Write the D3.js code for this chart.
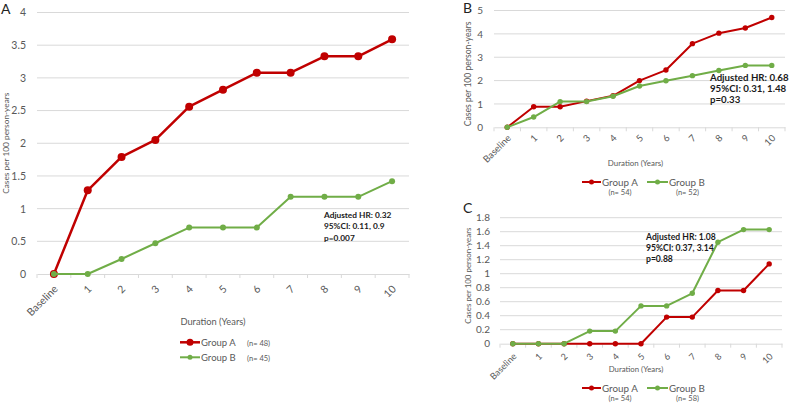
<!DOCTYPE html>
<html><head><meta charset="utf-8">
<script src="https://cdn.jsdelivr.net/npm/d3@7"></script>
<style>body{margin:0;background:#fff}svg{display:block}text{font-family:Lato,"Open Sans",sans-serif}</style>
</head><body>
<svg id="c" width="789" height="403"></svg>
<script>
const categories = ["Baseline","1","2","3","4","5","6","7","8","9","10"];
const aGroupA = [0,1.28,1.79,2.05,2.56,2.82,3.08,3.08,3.33,3.33,3.59];
const aGroupB = [0,0,0.23,0.47,0.71,0.71,0.71,1.18,1.18,1.18,1.42];
const bGroupA = [0,0.88,0.88,1.12,1.35,2.0,2.45,3.58,4.03,4.25,4.7];
const bGroupB = [0,0.44,1.1,1.1,1.33,1.77,1.99,2.21,2.43,2.65,2.65];
const cGroupA = [0,0,0,0,0,0,0.38,0.38,0.76,0.76,1.14];
const cGroupB = [0,0,0,0.18,0.18,0.54,0.54,0.72,1.45,1.63,1.63];
const aTicks = [0,0.5,1,1.5,2,2.5,3,3.5,4];
const bTicks = [0,1,2,3,4,5];
const cTicks = [0,0.2,0.4,0.6,0.8,1,1.2,1.4,1.6,1.8];
const aAnnot = ["Adjusted HR: 0.32","95%CI: 0.11, 0.9","p=0.007"];
const bAnnot = ["Adjusted HR: 0.68","95%CI: 0.31, 1.48","p=0.33"];
const cAnnot = ["Adjusted HR: 1.08","95%CI: 0.37, 3.14","p=0.88"];
const seriesNames = ["Group A","Group B"];
const aN = ["(n= 48)","(n= 45)"];
const bN = ["(n= 54)","(n= 52)"];
const cN = ["(n= 54)","(n= 58)"];

const RED="#C00000", GREEN="#70AD47", TXT="#595959", GRID="#D9D9D9";
const svg = d3.select("#c");

function panel(o){
  const g = svg.append("g");
  const x = d3.scaleBand().domain(categories).range([o.x0,o.x1]);
  const y = d3.scaleLinear().domain([0,o.ticks[o.ticks.length-1]]).range([o.y0,o.y1]);
  g.selectAll(".grid").data(o.ticks.slice(1)).join("line")
    .attr("x1",o.x0).attr("x2",o.x1).attr("y1",d=>y(d)).attr("y2",d=>y(d))
    .attr("stroke",GRID).attr("stroke-width",1);
  const ya = g.append("g").attr("transform",`translate(${o.x0},0)`)
    .call(d3.axisLeft(y).tickValues(o.ticks).tickSize(0).tickPadding(o.yPad).tickFormat(d=>d3.format("~g")(d)));
  ya.select(".domain").remove();
  ya.selectAll("text").attr("fill",TXT).style("font-size",o.yFont+"px").style("font-family","Lato,'Open Sans',sans-serif");
  const xa = g.append("g").attr("transform",`translate(0,${o.y0})`)
    .call(d3.axisBottom(x).tickSize(0).tickPadding(0));
  xa.select(".domain").attr("stroke",GRID);
  const bounds = categories.map(c=>x(c)).concat([o.x1]);
  g.selectAll(".tk").data(bounds).join("line")
    .attr("x1",d=>d).attr("x2",d=>d).attr("y1",o.y0).attr("y2",o.y0+4).attr("stroke",GRID);
  xa.selectAll(".tick text").attr("fill",TXT).style("font-size",o.xFont+"px")
    .style("font-family","Lato,'Open Sans',sans-serif")
    .attr("text-anchor","end").attr("dy","0.35em").attr("y",0)
    .attr("transform",`translate(${o.xlx},${o.xly}) rotate(-45)`);
  g.append("text").attr("transform",`translate(${o.ytX},${(o.y0+o.y1)/2+o.ytDy}) rotate(-90)`)
    .attr("text-anchor","middle").attr("fill",TXT).style("font-size",o.ytFont+"px").text("Cases per 100 person-years");
  g.append("text").attr("x",o.xtX).attr("y",o.xtY).attr("text-anchor","middle").attr("fill",TXT)
    .style("font-size",o.xtFont+"px").text("Duration (Years)");
  const line = d3.line().x((d,i)=>x(categories[i])+x.bandwidth()/2).y(d=>y(d));
  [[o.a,RED,o.rA,o.wA],[o.b,GREEN,o.rB,o.wB]].forEach(([data,col,r,w])=>{
    g.append("path").datum(data).attr("d",line).attr("fill","none").attr("stroke",col).attr("stroke-width",w).attr("stroke-linejoin","round");
    g.selectAll(null).data(data).join("circle")
      .attr("cx",(d,i)=>x(categories[i])+x.bandwidth()/2).attr("cy",d=>y(d)).attr("r",r).attr("fill",col);
  });
  g.append("g").selectAll("text").data(o.annot).join("text")
    .attr("x",o.anX).attr("y",(d,i)=>o.anY+i*o.anDy).attr("fill","#1a1a1a")
    .style("font-size",o.anFont+"px").style("font-weight","bold").text(d=>d);
  g.append("text").attr("x",o.lblX).attr("y",o.lblY).attr("fill","#222").style("font-size","14px").text(o.label);
  o.legend(g);
}

function legItem(g,x1,x2,yy,col,r,w){
  g.append("line").attr("x1",x1).attr("x2",x2).attr("y1",yy).attr("y2",yy).attr("stroke",col).attr("stroke-width",w);
  g.append("circle").attr("cx",(x1+x2)/2).attr("cy",yy).attr("r",r).attr("fill",col);
}
function legendSide(ns,yA,yB){
  return g=>{
    legItem(g,180,200,yA,RED,3.5,2.5);
    legItem(g,180,200,yB,GREEN,2.5,2);
    g.append("text").attr("x",201).attr("y",yA+3.5).attr("fill",TXT).style("font-size","9.5px").text(seriesNames[0]);
    g.append("text").attr("x",201).attr("y",yB+3.5).attr("fill",TXT).style("font-size","9.5px").text(seriesNames[1]);
    g.append("text").attr("x",247).attr("y",yA+3.5).attr("fill",TXT).style("font-size","7.5px").text(ns[0]);
    g.append("text").attr("x",247).attr("y",yB+3.5).attr("fill",TXT).style("font-size","7.5px").text(ns[1]);
  };
}
function legendRow(ns,yy){
  return g=>{
    legItem(g,582,601,yy,RED,2.5,2);
    legItem(g,647,668,yy,GREEN,2.5,2);
    g.append("text").attr("x",602).attr("y",yy+3.5).attr("fill",TXT).style("font-size","9.8px").text(seriesNames[0]);
    g.append("text").attr("x",669).attr("y",yy+3.5).attr("fill",TXT).style("font-size","9.8px").text(seriesNames[1]);
    g.append("text").attr("x",620).attr("y",yy+12.5).attr("text-anchor","middle").attr("fill",TXT).style("font-size","7.5px").text(ns[0]);
    g.append("text").attr("x",687.5).attr("y",yy+12.5).attr("text-anchor","middle").attr("fill",TXT).style("font-size","7.5px").text(ns[1]);
  };
}

panel({label:"A",lblX:1,lblY:13.5,x0:37,x1:409,y0:274,y1:12.5,ticks:aTicks,a:aGroupA,b:aGroupB,
  yFont:10.5,yPad:11,xFont:10.5,xlx:2,xly:13,ytX:9,ytDy:0,ytFont:8.3,xtX:213,xtY:324.5,xtFont:9.3,
  rA:4,wA:2.5,rB:3,wB:2,annot:aAnnot,anX:324,anY:217.5,anDy:11.5,anFont:8.3,
  legend:legendSide(aN,342.3,357.3)});

panel({label:"B",lblX:463,lblY:12.7,x0:494,x1:785,y0:127.3,y1:10.5,ticks:bTicks,a:bGroupA,b:bGroupB,
  yFont:10,yPad:11,xFont:9.5,xlx:2,xly:9,ytX:471,ytDy:5,ytFont:8.6,xtX:635.5,xtY:165.7,xtFont:7.9,
  rA:2.7,wA:2,rB:2.7,wB:2,annot:bAnnot,anX:710,anY:81,anDy:11,anFont:9.7,
  legend:legendRow(bN,182)});

panel({label:"C",lblX:463,lblY:213.3,x0:500,x1:782,y0:343.7,y1:217.7,ticks:cTicks,a:cGroupA,b:cGroupB,
  yFont:10,yPad:10,xFont:9,xlx:2,xly:11,ytX:471,ytDy:-5,ytFont:7.9,xtX:636,xtY:371.7,xtFont:7.8,
  rA:2.7,wA:2,rB:2.7,wB:2,annot:cAnnot,anX:646,anY:240,anDy:10.8,anFont:8.6,
  legend:legendRow(cN,388)});
</script>
</body></html>
